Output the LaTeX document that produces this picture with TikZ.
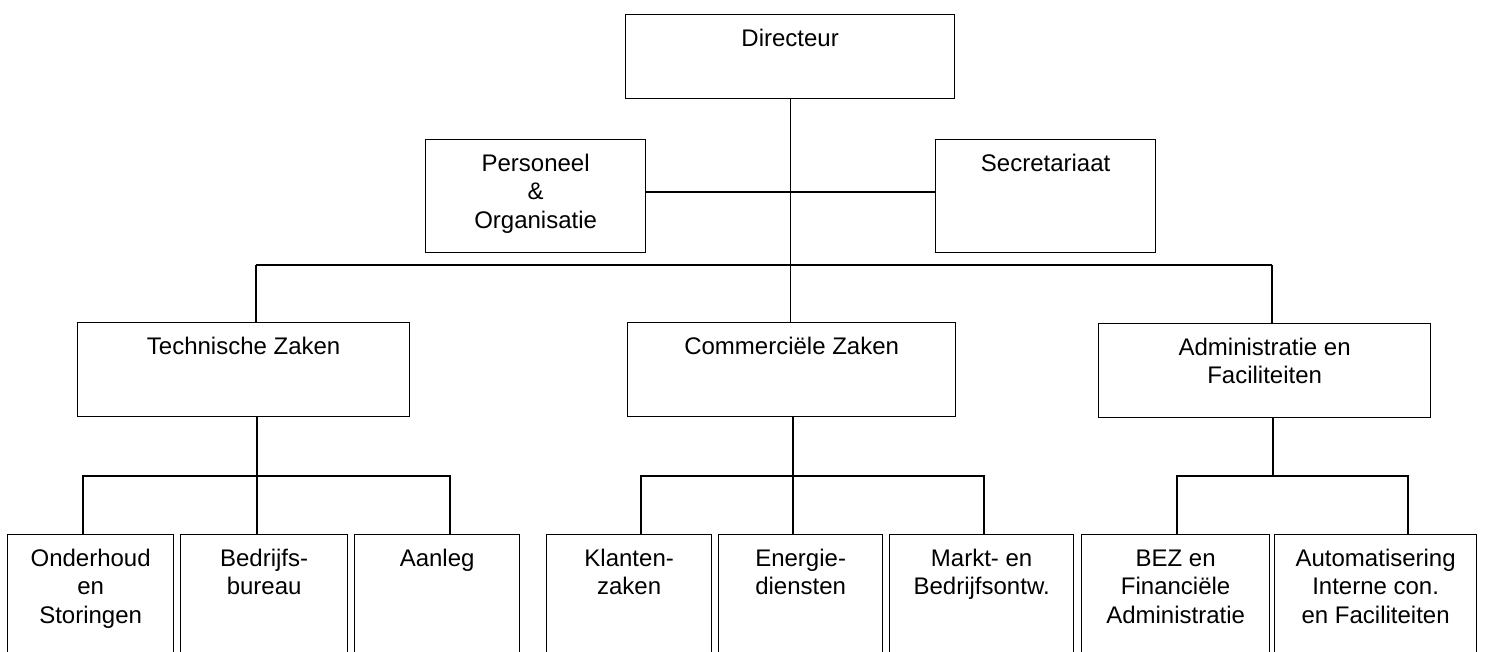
\documentclass[tikz,border=0pt]{standalone}
\usepackage{fontspec}
\setmainfont{Liberation Sans}
\newcommand\fl{\rule{0pt}{18pt}}
\begin{document}
\begin{tikzpicture}[x=1pt,y=-1pt,
  box/.style={draw, line width=1.3pt, inner sep=0pt, anchor=north west},
  lbl/.style={anchor=north, inner sep=0pt, align=center, font=\fontsize{24}{28.5}\selectfont},
  conn/.style={line width=1.2pt}]
\useasboundingbox (0,0) rectangle (1485,652);
\clip (0,0) rectangle (1485,652);
% boxes
\node[box, minimum width=329pt, minimum height=84pt]  (dir) at (625,14) {};
\node[box, minimum width=220pt, minimum height=113pt] (po)  at (425,139) {};
\node[box, minimum width=220pt, minimum height=113pt] (sec) at (935,139) {};
\node[box, minimum width=332pt, minimum height=94pt]  (tz)  at (77,322) {};
\node[box, minimum width=328pt, minimum height=94pt]  (cz)  at (627,322) {};
\node[box, minimum width=332pt, minimum height=94pt]  (af)  at (1098,323) {};
\node[box, minimum width=166pt, minimum height=160pt] (on)  at (7,534) {};
\node[box, minimum width=167pt, minimum height=160pt] (bb)  at (180,534) {};
\node[box, minimum width=165pt, minimum height=160pt] (aa)  at (354,534) {};
\node[box, minimum width=165pt, minimum height=160pt] (kl)  at (546,534) {};
\node[box, minimum width=164pt, minimum height=160pt] (en)  at (718,534) {};
\node[box, minimum width=184pt, minimum height=160pt] (ma)  at (889,534) {};
\node[box, minimum width=188pt, minimum height=160pt] (bez) at (1081,534) {};
\node[box, minimum width=202pt, minimum height=160pt] (au)  at (1274,534) {};
% labels
\node[lbl] (dirl) at ([yshift=-14pt]dir.north) {\fl Directeur};
\node[lbl] (pol)  at ([yshift=-14pt]po.north)  {\fl Personeel\\\&\\Organisatie};
\node[lbl] (secl) at ([yshift=-14pt]sec.north) {\fl Secretariaat};
\node[lbl] (tzl)  at ([yshift=-14pt]tz.north)  {\fl Technische Zaken};
\node[lbl] (czl)  at ([yshift=-14pt]cz.north)  {\fl Commerciële Zaken};
\node[lbl] (afl)  at ([yshift=-14pt]af.north)  {\fl Administratie en\\Faciliteiten};
\node[lbl] (onl)  at ([yshift=-14pt]on.north)  {\fl Onderhoud\\en\\Storingen};
\node[lbl] (bbl)  at ([yshift=-14pt]bb.north)  {\fl Bedrijfs-\\bureau};
\node[lbl] (aal)  at ([yshift=-14pt]aa.north)  {\fl Aanleg};
\node[lbl] (kll)  at ([yshift=-14pt]kl.north)  {\fl Klanten-\\zaken};
\node[lbl] (enl)  at ([yshift=-14pt]en.north)  {\fl Energie-\\diensten};
\node[lbl] (mal)  at ([yshift=-14pt]ma.north)  {\fl Markt- en\\Bedrijfsontw.};
\node[lbl] (bezl) at ([yshift=-14pt]bez.north) {\fl BEZ en\\Financiële\\Administratie};
\node[lbl] (aul)  at ([yshift=-14pt]au.north)  {\fl Automatisering\\Interne con.\\en Faciliteiten};
% junction coordinates
\coordinate (busL) at (256,265);
\coordinate (busR) at (1272,265);
\coordinate (tzv) at (257,0);
\coordinate (tzbL) at (83,476);
\coordinate (tzbR) at (450,476);
\coordinate (czv) at (793,0);
\coordinate (czbL) at (641,476);
\coordinate (czbR) at (984,476);
\coordinate (afv) at (1273,476);
\coordinate (afbL) at (1177,476);
\coordinate (afbR) at (1408,476);
% connectors
\draw[conn] (dir.south) -- (dir.south |- cz.north);
\draw[conn] (po.east |- 0,192) -- (sec.west |- 0,192);
\draw[conn] (busL) -- (busR);
\draw[conn] (busL) -- (busL |- tz.north);
\draw[conn] (busR) -- (busR |- af.north);
\draw[conn] (tzv |- tz.south) -- (tzv |- bb.north);
\draw[conn] (tzbL |- on.north) -- (tzbL) -- (tzbR) -- (tzbR |- aa.north);
\draw[conn] (czv |- cz.south) -- (czv |- en.north);
\draw[conn] (czbL |- kl.north) -- (czbL) -- (czbR) -- (czbR |- ma.north);
\draw[conn] (afv |- af.south) -- (afv);
\draw[conn] (afbL |- bez.north) -- (afbL) -- (afbR) -- (afbR |- au.north);
\end{tikzpicture}
\end{document}
